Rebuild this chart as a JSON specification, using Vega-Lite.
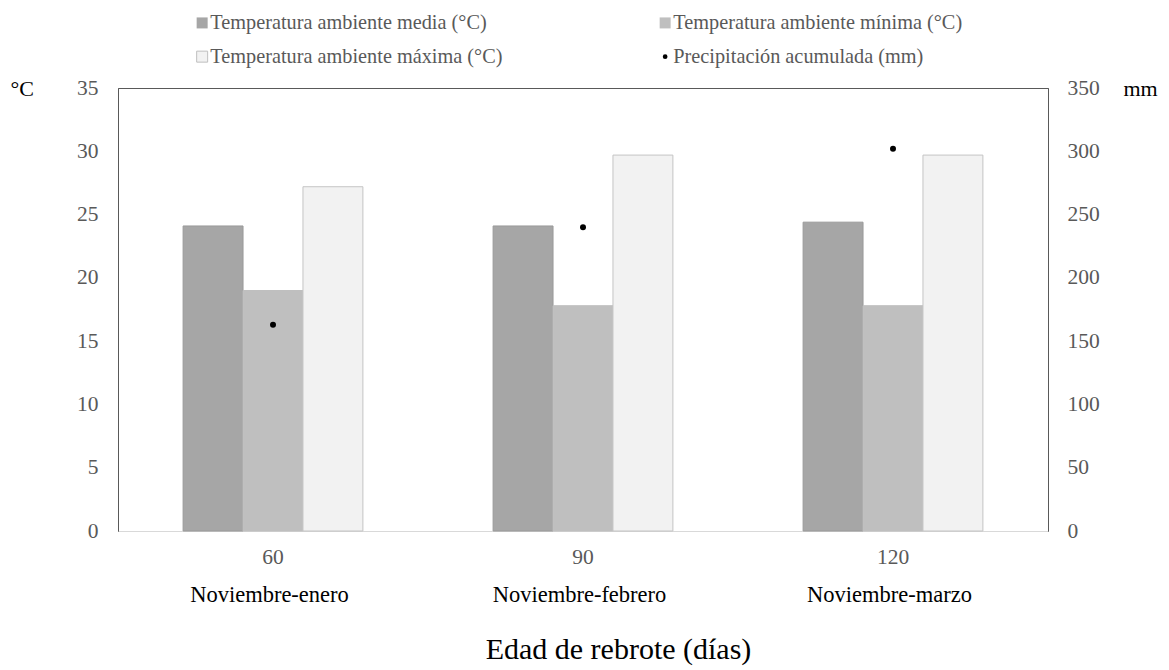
{
  "$schema": "https://vega.github.io/schema/vega-lite/v6.json",
  "width": 930,
  "height": 443,
  "autosize": "none",
  "padding": {"left": 118, "top": 88, "right": 121, "bottom": 139},
  "background": "white",
  "config": {
    "font": "Liberation Serif",
    "view": {"stroke": "#595959", "strokeWidth": 1}
  },
  "datasets": {
    "temp": [
      {"edad": "60", "mes": "Noviembre-enero", "serie": "Temperatura ambiente media (°C)", "valor": 24.1},
      {"edad": "60", "mes": "Noviembre-enero", "serie": "Temperatura ambiente mínima (°C)", "valor": 19.0},
      {"edad": "60", "mes": "Noviembre-enero", "serie": "Temperatura ambiente máxima (°C)", "valor": 27.2},
      {"edad": "90", "mes": "Noviembre-febrero", "serie": "Temperatura ambiente media (°C)", "valor": 24.1},
      {"edad": "90", "mes": "Noviembre-febrero", "serie": "Temperatura ambiente mínima (°C)", "valor": 17.8},
      {"edad": "90", "mes": "Noviembre-febrero", "serie": "Temperatura ambiente máxima (°C)", "valor": 29.7},
      {"edad": "120", "mes": "Noviembre-marzo", "serie": "Temperatura ambiente media (°C)", "valor": 24.4},
      {"edad": "120", "mes": "Noviembre-marzo", "serie": "Temperatura ambiente mínima (°C)", "valor": 17.8},
      {"edad": "120", "mes": "Noviembre-marzo", "serie": "Temperatura ambiente máxima (°C)", "valor": 29.7}
    ],
    "precip": [
      {"edad": "60", "mes": "Noviembre-enero", "serie": "Precipitación acumulada (mm)", "mm": 163},
      {"edad": "90", "mes": "Noviembre-febrero", "serie": "Precipitación acumulada (mm)", "mm": 240},
      {"edad": "120", "mes": "Noviembre-marzo", "serie": "Precipitación acumulada (mm)", "mm": 302}
    ]
  },
  "layer": [
    {
      "data": {"name": "temp"},
      "mark": {"type": "bar", "strokeWidth": 1},
      "encoding": {
        "x": {
          "field": "edad", "type": "nominal", "sort": ["60", "90", "120"],
          "scale": {"paddingInner": 0.42, "paddingOuter": 0.21},
          "axis": {
            "orient": "bottom", "title": null, "labelAngle": 0, "ticks": false, "tickSize": 0,
            "domainColor": "#d9d9d9", "labelColor": "#595959", "labelFontSize": 21.5,
            "labelPadding": 15, "labelFont": "Liberation Serif"
          }
        },
        "xOffset": {
          "field": "serie", "type": "nominal",
          "sort": ["Temperatura ambiente media (°C)", "Temperatura ambiente mínima (°C)", "Temperatura ambiente máxima (°C)"],
          "scale": {"paddingInner": 0, "paddingOuter": 0}
        },
        "y": {
          "field": "valor", "type": "quantitative",
          "scale": {"domain": [0, 35], "nice": false},
          "axis": {
            "values": [0, 5, 10, 15, 20, 25, 30, 35], "grid": false, "ticks": false, "tickSize": 0,
            "domainColor": "#595959", "labelColor": "#595959", "labelFontSize": 21.5, "labelPadding": 20,
            "title": "°C", "titleAngle": 0, "titleX": -108, "titleY": 0, "titleAlign": "left",
            "titleBaseline": "middle", "titleFontSize": 22, "titleFontWeight": "normal", "titleColor": "#000000"
          }
        },
        "color": {
          "field": "serie", "type": "nominal",
          "scale": {
            "domain": ["Temperatura ambiente media (°C)", "Temperatura ambiente mínima (°C)", "Temperatura ambiente máxima (°C)", "Precipitación acumulada (mm)"],
            "range": ["#a6a6a6", "#bfbfbf", "#f2f2f2", "#000000"]
          },
          "legend": {
            "orient": "none", "legendX": 74, "legendY": -75.5, "direction": "horizontal", "columns": 2,
            "title": null, "padding": 0, "columnPadding": 152, "rowPadding": 13,
            "labelFontSize": 20.3, "labelColor": "#595959", "labelFont": "Liberation Serif", "labelOffset": -2,
            "symbolType": "square", "symbolSize": 121, "labelLimit": 500,
            "encode": {
              "symbols": {
                "update": {
                  "shape": {"signal": "datum.value === 'Precipitación acumulada (mm)' ? 'circle' : 'square'"},
                  "size": {"signal": "datum.value === 'Precipitación acumulada (mm)' ? 22 : 121"},
                  "stroke": {"signal": "datum.value === 'Temperatura ambiente máxima (°C)' ? '#bfbfbf' : 'transparent'"},
                  "strokeWidth": {"value": 1}
                }
              }
            }
          }
        },
        "stroke": {
          "field": "serie", "type": "nominal",
          "scale": {
            "domain": ["Temperatura ambiente media (°C)", "Temperatura ambiente mínima (°C)", "Temperatura ambiente máxima (°C)"],
            "range": ["#9a9a9a", "#bfbfbf", "#c4c4c4"]
          },
          "legend": null
        }
      }
    },
    {
      "data": {"name": "precip"},
      "mark": {"type": "point", "filled": true, "size": 36, "opacity": 1},
      "encoding": {
        "x": {
          "field": "edad", "type": "nominal", "sort": ["60", "90", "120"],
          "scale": {"paddingInner": 0.42, "paddingOuter": 0.21},
          "axis": {
            "orient": "bottom", "title": "Edad de rebrote (días)", "labelAngle": 0, "ticks": false, "tickSize": 0,
            "domain": false, "labelColor": "#000000", "labelFontSize": 22.5, "labelPadding": 52,
            "labelFont": "Liberation Serif", "labelOffset": -4,
            "labelExpr": "datum.value === '60' ? 'Noviembre-enero' : datum.value === '90' ? 'Noviembre-febrero' : 'Noviembre-marzo'",
            "titleFontSize": 30, "titleFontWeight": "normal", "titleColor": "#000000", "titlePadding": 29,
            "titleFont": "Liberation Serif", "titleX": 500, "titleAlign": "center"
          }
        },
        "y": {
          "field": "mm", "type": "quantitative",
          "scale": {"domain": [0, 350], "nice": false},
          "axis": {
            "orient": "right", "values": [0, 50, 100, 150, 200, 250, 300, 350], "grid": false,
            "ticks": false, "tickSize": 0, "domainColor": "#595959", "labelColor": "#595959",
            "labelFontSize": 21.5, "labelPadding": 19,
            "title": "mm", "titleAngle": 0, "titleX": 75, "titleY": 0, "titleAlign": "left",
            "titleBaseline": "middle", "titleFontSize": 22, "titleFontWeight": "normal", "titleColor": "#000000"
          }
        },
        "color": {"field": "serie", "type": "nominal"}
      }
    }
  ],
  "resolve": {"scale": {"y": "independent", "x": "independent"}}
}
